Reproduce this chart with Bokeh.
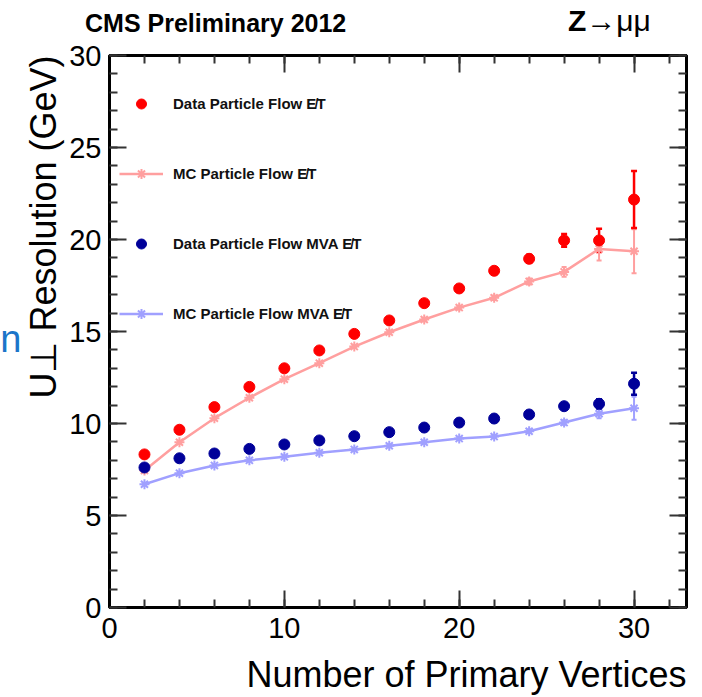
import math
from bokeh.plotting import figure
from bokeh.layouts import column
from bokeh.models import (ColumnDataSource, Range1d, LinearAxis, SingleIntervalTicker, Div,
                          Whisker, TeeHead, Label, Legend, LegendItem, CustomJSTickFormatter)
from bokeh.embed import file_html
from bokeh.resources import INLINE

# ---------------- data ----------------
npv = [2, 4, 6, 8, 10, 12, 14, 16, 18, 20, 22, 24, 26, 28, 30]

data_pf = [8.32, 9.66, 10.89, 11.99, 13.0, 13.97, 14.87, 15.6, 16.54, 17.34, 18.3, 18.95, 19.95, 19.95, 22.17]
data_pf_err = [0.05, 0.05, 0.05, 0.06, 0.07, 0.08, 0.09, 0.10, 0.12, 0.15, 0.18, 0.22, 0.35, 0.63, 1.55]

mc_pf = [7.45, 8.98, 10.29, 11.4, 12.41, 13.28, 14.18, 14.96, 15.65, 16.3, 16.83, 17.72, 18.24, 19.49, 19.36]
mc_pf_err = [0.04, 0.04, 0.04, 0.05, 0.05, 0.06, 0.07, 0.08, 0.09, 0.10, 0.12, 0.16, 0.27, 0.63, 1.2]

data_mva = [7.61, 8.11, 8.37, 8.62, 8.86, 9.08, 9.31, 9.53, 9.78, 10.05, 10.27, 10.49, 10.94, 11.07, 12.16]
data_mva_err = [0.03, 0.03, 0.03, 0.04, 0.04, 0.05, 0.05, 0.06, 0.07, 0.08, 0.10, 0.12, 0.16, 0.25, 0.6]

mc_mva = [6.7, 7.3, 7.72, 8.0, 8.19, 8.41, 8.59, 8.79, 8.98, 9.18, 9.29, 9.58, 10.05, 10.53, 10.83]
mc_mva_err = [0.02, 0.02, 0.02, 0.03, 0.03, 0.03, 0.04, 0.04, 0.05, 0.06, 0.07, 0.09, 0.12, 0.25, 0.62]

labels = ["Data Particle Flow E\u0338T", "MC Particle Flow E\u0338T",
          "Data Particle Flow MVA E\u0338T", "MC Particle Flow MVA E\u0338T"]

RED = "#ff0000"
PINK = "#ff9f9f"
NAVY = "#000099"
LBLUE = "#a0a0ff"
FONT = "Liberation Sans"


def src(y, e):
    return ColumnDataSource(dict(x=npv, y=y, lo=[a - b for a, b in zip(y, e)],
                                 hi=[a + b for a, b in zip(y, e)]))


s_dpf, s_mpf = src(data_pf, data_pf_err), src(mc_pf, mc_pf_err)
s_dmva, s_mmva = src(data_mva, data_mva_err), src(mc_mva, mc_mva_err)

# ---------------- header (title texts) ----------------
HEAD_H = 38
head_html = (
    "<div style=\"position:relative;width:702px;height:38px;margin:0;padding:0;"
    "font-family:'Liberation Sans',Arial,sans-serif;color:black;\">"
    "<span style=\"position:absolute;left:85px;top:11.3px;font-size:25px;line-height:25px;"
    "font-weight:bold;white-space:nowrap;\">CMS Preliminary 2012</span>"
    "<span style=\"position:absolute;left:568px;top:6.1px;font-size:30px;line-height:30px;"
    "white-space:nowrap;\"><b>Z</b>\u2192\u03bc\u03bc</span>"
    "</div>"
)
head = Div(text=head_html, width=702, height=HEAD_H, styles={"margin": "0", "padding": "0"})

# ---------------- main plot ----------------
p = figure(width=702, height=697 - HEAD_H, output_backend="svg", toolbar_location=None,
           x_range=Range1d(0, 33), y_range=Range1d(0, 30),
           min_border_left=109, min_border_right=16, min_border_top=55 - HEAD_H,
           min_border_bottom=90)
p.xgrid.visible = False
p.ygrid.visible = False
p.background_fill_color = "white"
p.border_fill_color = "white"
p.outline_line_color = "black"
p.outline_line_width = 3


def style_axis(ax, show_labels, standoff=8):
    ax.axis_line_width = 3
    ax.axis_line_color = "black"
    ax.major_tick_in = 17
    ax.major_tick_out = 0
    ax.minor_tick_in = 8
    ax.minor_tick_out = 0
    ax.major_tick_line_color = "#333333"
    ax.minor_tick_line_color = "#333333"
    ax.major_tick_line_width = 2
    ax.minor_tick_line_width = 2
    if show_labels:
        ax.major_label_text_font = FONT
        ax.major_label_text_font_size = "29px"
        ax.major_label_text_color = "black"
        ax.major_label_standoff = standoff
    else:
        ax.formatter = CustomJSTickFormatter(code="return ''")
        ax.major_label_text_color = None
        ax.major_label_text_font_size = "1px"
        ax.major_label_standoff = 0


p.xaxis[0].ticker = SingleIntervalTicker(interval=10, num_minor_ticks=5)
p.yaxis[0].ticker = SingleIntervalTicker(interval=5, num_minor_ticks=5)
style_axis(p.xaxis[0], True, 10)
style_axis(p.yaxis[0], True, 8)

top = LinearAxis(ticker=SingleIntervalTicker(interval=10, num_minor_ticks=5))
right = LinearAxis(ticker=SingleIntervalTicker(interval=5, num_minor_ticks=5))
style_axis(top, False)
style_axis(right, False)
p.add_layout(top, "above")
p.add_layout(right, "right")

# MC series
for s, c in ((s_mpf, PINK), (s_mmva, LBLUE)):
    p.add_layout(Whisker(source=s, base="x", upper="hi", lower="lo", dimension="height",
                         line_color=c, line_width=2, level="underlay",
                         upper_head=TeeHead(size=5, line_color=c, line_width=2),
                         lower_head=TeeHead(size=5, line_color=c, line_width=2)))

l_mpf = p.line("x", "y", source=s_mpf, line_color=PINK, line_width=2.5)
m_mpf = p.scatter("x", "y", source=s_mpf, marker="asterisk", size=10, line_color=PINK, line_width=2)
l_mmva = p.line("x", "y", source=s_mmva, line_color=LBLUE, line_width=2.5)
m_mmva = p.scatter("x", "y", source=s_mmva, marker="asterisk", size=10, line_color=LBLUE, line_width=2)

# Data series
for s, c in ((s_dpf, RED), (s_dmva, NAVY)):
    p.add_layout(Whisker(source=s, base="x", upper="hi", lower="lo", dimension="height",
                         line_color=c, line_width=2.5, level="underlay",
                         upper_head=TeeHead(size=6, line_color=c, line_width=2.5),
                         lower_head=TeeHead(size=6, line_color=c, line_width=2.5)))

d_pf = p.scatter("x", "y", source=s_dpf, marker="circle", size=11, fill_color=RED, line_color=RED)
d_mva = p.scatter("x", "y", source=s_dmva, marker="circle", size=11, fill_color=NAVY, line_color=NAVY)

legend = Legend(items=[LegendItem(label=labels[0], renderers=[d_pf]),
                       LegendItem(label=labels[1], renderers=[l_mpf, m_mpf]),
                       LegendItem(label=labels[2], renderers=[d_mva]),
                       LegendItem(label=labels[3], renderers=[l_mmva, m_mmva])],
                location=(10, 281), glyph_width=44, glyph_height=25, spacing=45,
                padding=0, margin=0, border_line_color=None, background_fill_alpha=0,
                label_text_font=FONT, label_text_font_style="bold",
                label_text_font_size="15px", label_standoff=10, label_text_color="#111111")
p.add_layout(legend)


# texts placed in side panels (not clipped by the frame)
def lab(side, x, y, text, size, align="left", angle=0, color="black"):
    p.add_layout(Label(x=x, y=y, x_units="screen", y_units="screen", text=text,
                       text_font=FONT, text_font_size=size,
                       text_align=align, text_baseline="alphabetic", angle=angle,
                       text_color=color), side)


lab("below", 577, 6.6, "Number of Primary Vertices", "36px", align="right")
lab("left", 18.4, 552, "U\u22a5 Resolution (GeV)", "36px", align="right", angle=math.pi / 2)
lab("left", 17, 269, "n", "38px", align="right", color="#1b75c9")

layout = column(head, p, spacing=0)
open("out.html", "w").write(file_html(layout, INLINE))
